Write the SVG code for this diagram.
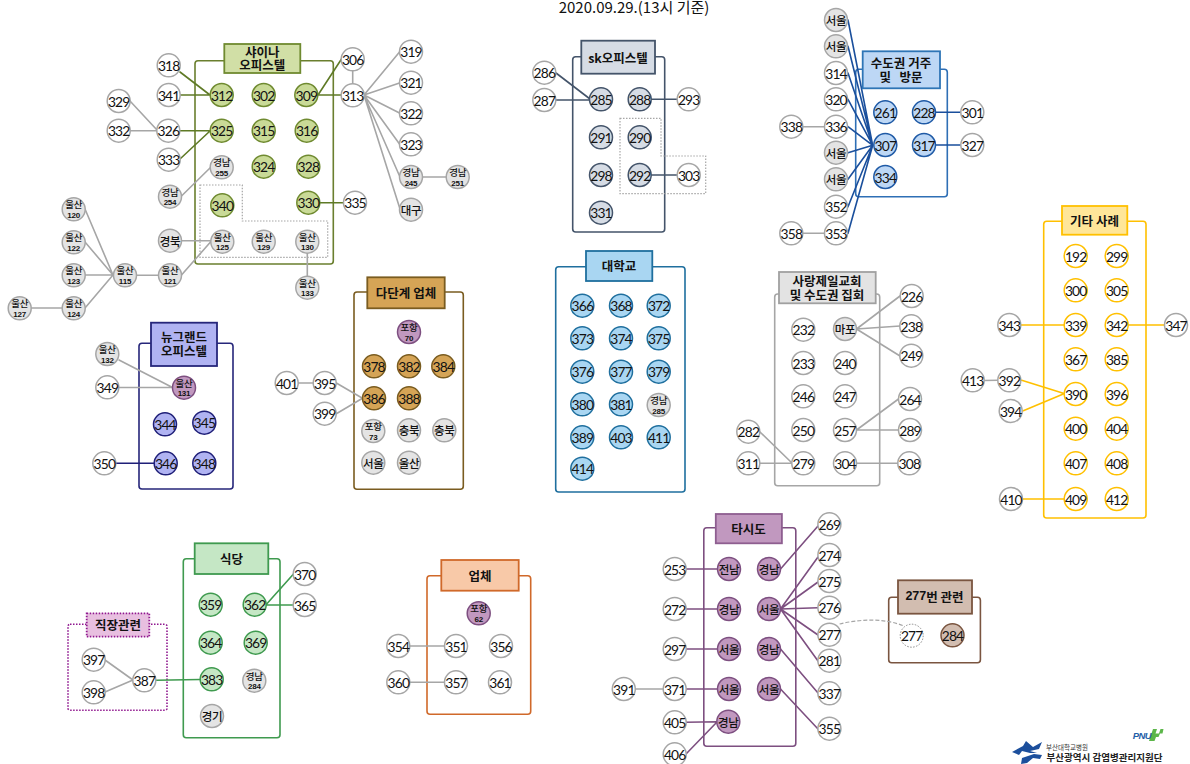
<svg xmlns="http://www.w3.org/2000/svg" width="1190" height="764" viewBox="0 0 1190 764">
<style>
text{font-family:"Lato","Noto Sans CJK KR",sans-serif;text-anchor:middle;fill:#111;dominant-baseline:central}
.n{font-size:13.8px;letter-spacing:-.8px}
.k{font-family:"Noto Sans CJK KR",sans-serif;font-size:11.5px;font-weight:500;letter-spacing:-.4px}
.k2{font-family:"Noto Sans CJK KR",sans-serif;font-size:9.5px;font-weight:500;letter-spacing:-.2px}
.b{font-family:"Liberation Sans",sans-serif;font-size:8px;font-weight:700;letter-spacing:-.2px}
.h{font-family:"Noto Sans CJK KR",sans-serif;font-size:12.5px;font-weight:700;white-space:pre}
circle{stroke-width:1.5;r:11.5px}
.w{fill:#fff;stroke:#a6a6a6}
.g{fill:#e4e4e4;stroke:#a6a6a6}
.s{fill:#c9da97;stroke:#6f8a30}
.d{fill:#d6dce5;stroke:#44546a}
.m{fill:#bdd7f5;stroke:#1f5aa6}
.u{fill:#a9d6f2;stroke:#1f6f9e}
.o{fill:#fff;stroke:#ffc000}
.p{fill:#b0b3f2;stroke:#1f1f78}
.c{fill:#d5a456;stroke:#7a5c20}
.v{fill:#c198bf;stroke:#7d4f80}
.e{fill:#c5e7c5;stroke:#3f9a4f}
.r{fill:#d2bdb0;stroke:#7a5540}
.dot{fill:#fff;stroke:#888;stroke-dasharray:1.5 1.5;stroke-width:1}
.box{fill:none;stroke-width:1.6}
.ti{stroke-width:1.8}
.l{fill:none;stroke-width:1.6;stroke-linecap:round}
.lg{stroke:#a6a6a6}.ls{stroke:#5f7a26}.ld{stroke:#44546a}.lm{stroke:#1a4f9c}.lo{stroke:#ffc000}.lp{stroke:#1f1f78}.lv{stroke:#7d4f80}.le{stroke:#3f9a4f}
.dotbox{fill:none;stroke:#a6a6a6;stroke-width:1.2;stroke-dasharray:1.5 1.5}
</style>
<text x="634" y="6.4" style="font-family:'Noto Sans CJK KR',sans-serif;font-size:15px">2020.09.29.(13시 기준)</text>

<g id="boxes">
<rect class="box" x="195" y="60.7" width="138.3" height="203.3" rx="3" stroke="#6a7f2e"/>
<rect class="box" x="572.7" y="56.7" width="92" height="175.3" rx="3" stroke="#44546a"/>
<rect class="box" x="855.7" y="69.3" width="91.6" height="127.4" rx="3" stroke="#2e6fb5"/>
<rect class="box" x="555.7" y="266.7" width="129.3" height="225.3" rx="3" stroke="#1f6f9e"/>
<rect class="box" x="774.7" y="294" width="105" height="191.7" rx="3" stroke="#a6a6a6"/>
<rect class="box" x="1043.7" y="221.3" width="102.3" height="296.7" rx="3" stroke="#ffc000"/>
<rect class="box" x="139" y="343.3" width="94" height="145.7" rx="3" stroke="#26267a"/>
<rect class="box" x="354" y="292" width="109.3" height="197.3" rx="3" stroke="#7a5c20"/>
<rect class="box" x="183.3" y="558.7" width="96.7" height="179" rx="3" stroke="#3f9a4f"/>
<rect class="box" x="68" y="624.3" width="99" height="86" rx="2" stroke="#90188f" stroke-dasharray="1.5 1.5"/>
<rect class="box" x="427" y="575.7" width="103.7" height="138.6" rx="3" stroke="#d0692a"/>
<rect class="box" x="703.8" y="527.7" width="92" height="218.6" rx="3" stroke="#7d4f80"/>
<rect class="box" x="888.7" y="597.3" width="91.7" height="65.4" rx="3" stroke="#7a5540"/>
<polygon class="dotbox" points="200,185 242.3,185 242.3,221 327.7,221 327.7,257.3 200,257.3"/>
<polygon class="dotbox" points="620,118.3 661,118.3 661,156 705.7,156 705.7,193.7 620,193.7"/>
</g>

<g id="connectors">
<path class="l lg" d="M352.7 71V84M364 95L399.5 52M364 95L399.5 83M364 95L399.5 113M364 95L399.5 144M364 95L400 177M364 95L400 209M423 177H446M130 101L157 130M130.7 130.7H157M85 209L113 275M85 242L113 275M85 275H113M85 308L113 275M31 308H62M136.5 275.3H158.5M181.5 275L210.5 242M181.5 240.7H211M181.5 196L211 167M307.3 253V276"/>
<path class="l ls" d="M180 72L210 95M180 95H210M180 130.7H210M180 159L210 131M318 95L341.5 59M318 95H341M320 202.7H343.5"/>
<path class="l ld" d="M556 73L590 99M556 100H590M651 99.3H677M651 175H677"/>
<path class="l lm" d="M848 20L872.7 145.3M848 46.3L872.7 145.3M848 73L872.7 145.3M848 99.3L872.7 145.3M848 126.7L872.7 145.3M848 152.7L872.7 145.3M848 179.3L872.7 145.3M848 206.7L872.7 145.3M848 233.3L872.7 145.3M935.5 112.3H961M935.5 145H961"/>
<path class="l lg" d="M803 126.7H824.5M803 233.3H824.5M856.5 329L900 296M856.5 329L900 326M856.5 329L900 356M856.5 430L898.5 399M856.5 430H898.5M760 432L792 463M760 463.3H792M856.5 463.3H898"/>
<path class="l lo" d="M1021 325H1064M1128 325H1164.5M1021.7 380.3L1063.3 393.3M1023.3 410.7L1063.3 394M1022.5 499H1064"/>
<path class="l lg" d="M984 380.5L998 380.3M119 360L173 387.7M119 387.5H173M298 383H313M336.3 383L362.5 398.3M336.3 413.7L362.5 398.3M105 660L133 680M105 692L133 680M410 646H444.5M410 682.3H444.5M635.5 689H663"/>
<path class="l lp" d="M116 463.3H154"/>
<path class="l le" d="M266 604.7L293.5 574M266 605H293M156 680.3L200 679.5"/>
<path class="l lv" d="M686 569H717.5M686 609H717.5M686 649H717.5M686 689H717.5M686 722.3L717 721.7M686 754L717 722M780.5 569L818 526M780.5 609L818 557M780.5 609L818 582M780.5 609L818 607.7M780.5 609L818 635M780.5 609L818 661M780.5 649L818 693M780.5 689L818 729"/>
<path d="M839.6 624C860 619 885 618 903.8 626" fill="none" stroke="#a6a6a6" stroke-width="1.2" stroke-dasharray="4 2"/>
</g>

<g id="t-shiina"><rect class="ti" x="224.3" y="44" width="76" height="29" fill="#d1dfa6" stroke="#6f8a30"/><text class="h" x="262.3" y="51">샤이나</text><text class="h" x="262.3" y="64.8">오피스텔</text></g>
<g id="t-sk"><rect class="ti" x="581.3" y="40.7" width="73.7" height="33" fill="#d6dce5" stroke="#44546a"/><text class="h" x="618" y="57">sk오피스텔</text></g>
<g id="t-metro"><rect class="ti" x="862.7" y="51.3" width="77.3" height="37" fill="#bdd7f5" stroke="#2e75b6"/><text class="h" x="901" y="62">수도권 거주</text><text class="h" x="901" y="76.5">및   방문</text></g>
<g id="t-univ"><rect class="ti" x="586" y="251" width="66.3" height="30" fill="#a9d6f2" stroke="#1f6f9e"/><text class="h" x="619" y="265.5">대학교</text></g>
<g id="t-sarang"><rect class="ti" x="779" y="272" width="96.7" height="31.3" fill="#e3e3e3" stroke="#a0a0a0"/><text class="h" x="827" y="280">사랑제일교회</text><text class="h" x="827" y="294.3">및 수도권 집회</text></g>
<g id="t-etc"><rect class="ti" x="1062" y="206" width="65.3" height="28.7" fill="#ffe699" stroke="#ffc000"/><text class="h" x="1094.5" y="220">기타 사례</text></g>
<g id="t-new"><rect class="ti" x="151" y="322.7" width="66" height="43.3" fill="#b0b3f2" stroke="#26267a"/><text class="h" x="184" y="336">뉴그랜드</text><text class="h" x="184" y="350.5">오피스텔</text></g>
<g id="t-multi"><rect class="ti" x="367.3" y="277.3" width="77.4" height="31" fill="#d5a456" stroke="#7a5c20"/><text class="h" x="406" y="292.5">다단계 업체</text></g>
<g id="t-food"><rect class="ti" x="194.7" y="543.3" width="73.6" height="30.7" fill="#c5e7c5" stroke="#3f9a4f"/><text class="h" x="231.5" y="558">식당</text></g>
<g id="t-work"><rect class="ti" x="86.7" y="613.3" width="62.6" height="23.4" fill="#e8bfe0" stroke="#90188f" stroke-dasharray="1.5 1.5"/><text class="h" x="118" y="624.5">직장관련</text></g>
<g id="t-comp"><rect class="ti" x="441.3" y="560" width="77.4" height="30.7" fill="#f8c9a8" stroke="#d0692a"/><text class="h" x="480" y="575">업체</text></g>
<g id="t-taxi"><rect class="ti" x="715.8" y="514" width="66.1" height="29.3" fill="#c198bf" stroke="#8e5e90"/><text class="h" x="748.5" y="528">타시도</text></g>
<g id="t-277"><rect class="ti" x="898" y="580.3" width="74" height="33.4" fill="#d2bdb0" stroke="#7a5540"/><text class="h" x="934.5" y="596"><tspan style="font-family:'Liberation Sans',sans-serif">277</tspan>번 관련</text></g>

<g id="n318" transform="translate(168.7 65.3)"><circle class="w"/><text class="n">318</text></g>
<g id="n341" transform="translate(168.7 95)"><circle class="w"/><text class="n">341</text></g>
<g id="n312" transform="translate(221.7 95)"><circle class="s"/><text class="n">312</text></g>
<g id="n302" transform="translate(263.7 95)"><circle class="s"/><text class="n">302</text></g>
<g id="n309" transform="translate(306.3 95)"><circle class="s"/><text class="n">309</text></g>
<g id="n306" transform="translate(352.7 59.3)"><circle class="w"/><text class="n">306</text></g>
<g id="n313" transform="translate(352.7 95.3)"><circle class="w"/><text class="n">313</text></g>
<g id="n319" transform="translate(411 51.7)"><circle class="w"/><text class="n">319</text></g>
<g id="n321" transform="translate(411 82.7)"><circle class="w"/><text class="n">321</text></g>
<g id="n322" transform="translate(411 113.3)"><circle class="w"/><text class="n">322</text></g>
<g id="n323" transform="translate(411 144.3)"><circle class="w"/><text class="n">323</text></g>
<g id="n245" transform="translate(411 177)"><circle class="g"/><text class="k2" y="-5">경남</text><text class="b" y="6.3">245</text></g>
<g id="n251" transform="translate(457.7 177)"><circle class="g"/><text class="k2" y="-5">경남</text><text class="b" y="6.3">251</text></g>
<g id="nDaegu" transform="translate(411 209.7)"><circle class="g"/><text class="k">대구</text></g>
<g id="n329" transform="translate(118.7 101)"><circle class="w"/><text class="n">329</text></g>
<g id="n332" transform="translate(118.7 130.7)"><circle class="w"/><text class="n">332</text></g>
<g id="n326" transform="translate(168.3 130.7)"><circle class="w"/><text class="n">326</text></g>
<g id="n325" transform="translate(221.7 130.7)"><circle class="s"/><text class="n">325</text></g>
<g id="n315" transform="translate(263.7 130.7)"><circle class="s"/><text class="n">315</text></g>
<g id="n316" transform="translate(306.7 130.7)"><circle class="s"/><text class="n">316</text></g>
<g id="n333" transform="translate(168.7 159.7)"><circle class="w"/><text class="n">333</text></g>
<g id="n255" transform="translate(221.7 167.3)"><circle class="g"/><text class="k2" y="-5">경남</text><text class="b" y="6.3">255</text></g>
<g id="n324" transform="translate(263.7 166.7)"><circle class="s"/><text class="n">324</text></g>
<g id="n328" transform="translate(308.3 166.7)"><circle class="s"/><text class="n">328</text></g>
<g id="n254" transform="translate(170 196.7)"><circle class="g"/><text class="k2" y="-5">경남</text><text class="b" y="6.3">254</text></g>
<g id="n340" transform="translate(222.3 205.3)"><circle class="s"/><text class="n">340</text></g>
<g id="n330" transform="translate(308.3 202.7)"><circle class="s"/><text class="n">330</text></g>
<g id="n335" transform="translate(355 202.7)"><circle class="w"/><text class="n">335</text></g>
<g id="n120" transform="translate(73.7 209.3)"><circle class="g"/><text class="k2" y="-5">울산</text><text class="b" y="6.3">120</text></g>
<g id="n122" transform="translate(73.7 242.3)"><circle class="g"/><text class="k2" y="-5">울산</text><text class="b" y="6.3">122</text></g>
<g id="n123" transform="translate(73.7 275.3)"><circle class="g"/><text class="k2" y="-5">울산</text><text class="b" y="6.3">123</text></g>
<g id="n124" transform="translate(73.7 308.3)"><circle class="g"/><text class="k2" y="-5">울산</text><text class="b" y="6.3">124</text></g>
<g id="n127" transform="translate(19.7 308.3)"><circle class="g"/><text class="k2" y="-5">울산</text><text class="b" y="6.3">127</text></g>
<g id="n115" transform="translate(125 275.3)"><circle class="g"/><text class="k2" y="-5">울산</text><text class="b" y="6.3">115</text></g>
<g id="n121" transform="translate(170 275.3)"><circle class="g"/><text class="k2" y="-5">울산</text><text class="b" y="6.3">121</text></g>
<g id="nGb" transform="translate(170 240.7)"><circle class="g"/><text class="k">경북</text></g>
<g id="n125" transform="translate(222.3 241.7)"><circle class="g"/><text class="k2" y="-5">울산</text><text class="b" y="6.3">125</text></g>
<g id="n129" transform="translate(263.7 241.7)"><circle class="g"/><text class="k2" y="-5">울산</text><text class="b" y="6.3">129</text></g>
<g id="n130" transform="translate(307.3 241.7)"><circle class="g"/><text class="k2" y="-5">울산</text><text class="b" y="6.3">130</text></g>
<g id="n133" transform="translate(307.3 287.7)"><circle class="g"/><text class="k2" y="-5">울산</text><text class="b" y="6.3">133</text></g>

<g id="n286" transform="translate(544.3 72.7)"><circle class="w"/><text class="n">286</text></g>
<g id="n287" transform="translate(544.3 100)"><circle class="w"/><text class="n">287</text></g>
<g id="n285" transform="translate(601 99.3)"><circle class="d"/><text class="n">285</text></g>
<g id="n288" transform="translate(639.7 99.3)"><circle class="d"/><text class="n">288</text></g>
<g id="n293" transform="translate(688.7 99.3)"><circle class="w"/><text class="n">293</text></g>
<g id="n291" transform="translate(601 137.3)"><circle class="d"/><text class="n">291</text></g>
<g id="n290" transform="translate(639.7 137.3)"><circle class="d"/><text class="n">290</text></g>
<g id="n298" transform="translate(601 175)"><circle class="d"/><text class="n">298</text></g>
<g id="n292" transform="translate(639.7 175)"><circle class="d"/><text class="n">292</text></g>
<g id="n303" transform="translate(688.7 175)"><circle class="w"/><text class="n">303</text></g>
<g id="n331" transform="translate(601 212.7)"><circle class="d"/><text class="n">331</text></g>

<g id="mS1" transform="translate(836 20)"><circle class="g"/><text class="k">서울</text></g>
<g id="mS2" transform="translate(836 46.3)"><circle class="g"/><text class="k">서울</text></g>
<g id="n314" transform="translate(836 73)"><circle class="w"/><text class="n">314</text></g>
<g id="n320" transform="translate(836 99.3)"><circle class="w"/><text class="n">320</text></g>
<g id="n336" transform="translate(836 126.7)"><circle class="w"/><text class="n">336</text></g>
<g id="n338" transform="translate(791.3 126.7)"><circle class="w"/><text class="n">338</text></g>
<g id="mS3" transform="translate(836 152.7)"><circle class="g"/><text class="k">서울</text></g>
<g id="mS4" transform="translate(836 179.3)"><circle class="g"/><text class="k">서울</text></g>
<g id="n352" transform="translate(836 206.7)"><circle class="w"/><text class="n">352</text></g>
<g id="n353" transform="translate(836 233.3)"><circle class="w"/><text class="n">353</text></g>
<g id="n358" transform="translate(791.3 233.3)"><circle class="w"/><text class="n">358</text></g>
<g id="n261" transform="translate(885.3 112.3)"><circle class="m"/><text class="n">261</text></g>
<g id="n228" transform="translate(924 112.3)"><circle class="m"/><text class="n">228</text></g>
<g id="n301" transform="translate(972.3 112.3)"><circle class="w"/><text class="n">301</text></g>
<g id="n307" transform="translate(885.3 145)"><circle class="m"/><text class="n">307</text></g>
<g id="n317" transform="translate(924 145)"><circle class="m"/><text class="n">317</text></g>
<g id="n327" transform="translate(972.3 145)"><circle class="w"/><text class="n">327</text></g>
<g id="n334" transform="translate(885.3 177)"><circle class="m"/><text class="n">334</text></g>

<g id="n366" transform="translate(582.3 305.7)"><circle class="u"/><text class="n">366</text></g>
<g id="n368" transform="translate(621 305.7)"><circle class="u"/><text class="n">368</text></g>
<g id="n372" transform="translate(658.7 305.7)"><circle class="u"/><text class="n">372</text></g>
<g id="n373" transform="translate(582.3 338.3)"><circle class="u"/><text class="n">373</text></g>
<g id="n374" transform="translate(621 338.3)"><circle class="u"/><text class="n">374</text></g>
<g id="n375" transform="translate(658.7 338.3)"><circle class="u"/><text class="n">375</text></g>
<g id="n376" transform="translate(582.3 371.7)"><circle class="u"/><text class="n">376</text></g>
<g id="n377" transform="translate(621 371.7)"><circle class="u"/><text class="n">377</text></g>
<g id="n379" transform="translate(658.7 371.7)"><circle class="u"/><text class="n">379</text></g>
<g id="n380" transform="translate(582.3 404.3)"><circle class="u"/><text class="n">380</text></g>
<g id="n381" transform="translate(621 404.3)"><circle class="u"/><text class="n">381</text></g>
<g id="n285b" transform="translate(658.7 405)"><circle class="g"/><text class="k2" y="-5">경남</text><text class="b" y="6.3">285</text></g>
<g id="n389" transform="translate(582.3 437.3)"><circle class="u"/><text class="n">389</text></g>
<g id="n403" transform="translate(621 437.3)"><circle class="u"/><text class="n">403</text></g>
<g id="n411" transform="translate(658.7 437.3)"><circle class="u"/><text class="n">411</text></g>
<g id="n414" transform="translate(582.3 468.7)"><circle class="u"/><text class="n">414</text></g>

<g id="n232" transform="translate(803.3 329.7)"><circle class="w"/><text class="n">232</text></g>
<g id="nMapo" transform="translate(845 329)"><circle class="g"/><text class="k">마포</text></g>
<g id="n226" transform="translate(911.7 296)"><circle class="w"/><text class="n">226</text></g>
<g id="n238" transform="translate(911.3 326.3)"><circle class="w"/><text class="n">238</text></g>
<g id="n249" transform="translate(911.3 355.7)"><circle class="w"/><text class="n">249</text></g>
<g id="n233" transform="translate(803.3 363)"><circle class="w"/><text class="n">233</text></g>
<g id="n240" transform="translate(845 363)"><circle class="w"/><text class="n">240</text></g>
<g id="n246" transform="translate(803.3 396.3)"><circle class="w"/><text class="n">246</text></g>
<g id="n247" transform="translate(845 396.3)"><circle class="w"/><text class="n">247</text></g>
<g id="n250" transform="translate(803.3 430)"><circle class="w"/><text class="n">250</text></g>
<g id="n257" transform="translate(845 430)"><circle class="w"/><text class="n">257</text></g>
<g id="n264" transform="translate(910 399)"><circle class="w"/><text class="n">264</text></g>
<g id="n289" transform="translate(910 430)"><circle class="w"/><text class="n">289</text></g>
<g id="n282" transform="translate(748.3 431.7)"><circle class="w"/><text class="n">282</text></g>
<g id="n311" transform="translate(748.3 463.3)"><circle class="w"/><text class="n">311</text></g>
<g id="n279" transform="translate(803.3 463.3)"><circle class="w"/><text class="n">279</text></g>
<g id="n304" transform="translate(845 463.3)"><circle class="w"/><text class="n">304</text></g>
<g id="n308" transform="translate(909.3 463.3)"><circle class="w"/><text class="n">308</text></g>

<g id="n192" transform="translate(1075.7 256)"><circle class="o"/><text class="n">192</text></g>
<g id="n299" transform="translate(1116.7 256)"><circle class="o"/><text class="n">299</text></g>
<g id="n300" transform="translate(1075.7 290.3)"><circle class="o"/><text class="n">300</text></g>
<g id="n305" transform="translate(1116.7 290.3)"><circle class="o"/><text class="n">305</text></g>
<g id="n339" transform="translate(1075.7 325)"><circle class="o"/><text class="n">339</text></g>
<g id="n342" transform="translate(1116.7 325)"><circle class="o"/><text class="n">342</text></g>
<g id="n367" transform="translate(1075.7 359.3)"><circle class="o"/><text class="n">367</text></g>
<g id="n385" transform="translate(1116.7 359.3)"><circle class="o"/><text class="n">385</text></g>
<g id="n390" transform="translate(1075.7 394)"><circle class="o"/><text class="n">390</text></g>
<g id="n396" transform="translate(1116.7 394)"><circle class="o"/><text class="n">396</text></g>
<g id="n400" transform="translate(1075.7 428.7)"><circle class="o"/><text class="n">400</text></g>
<g id="n404" transform="translate(1116.7 428.7)"><circle class="o"/><text class="n">404</text></g>
<g id="n407" transform="translate(1075.7 463.3)"><circle class="o"/><text class="n">407</text></g>
<g id="n408" transform="translate(1116.7 463.3)"><circle class="o"/><text class="n">408</text></g>
<g id="n409" transform="translate(1075.7 499)"><circle class="o"/><text class="n">409</text></g>
<g id="n412" transform="translate(1116.7 499)"><circle class="o"/><text class="n">412</text></g>
<g id="n343" transform="translate(1009.3 325)"><circle class="w"/><text class="n">343</text></g>
<g id="n347" transform="translate(1176 325)"><circle class="w"/><text class="n">347</text></g>
<g id="n392" transform="translate(1009.3 380.3)"><circle class="w"/><text class="n">392</text></g>
<g id="n413" transform="translate(972.7 380.3)"><circle class="w"/><text class="n">413</text></g>
<g id="n394" transform="translate(1010.7 411)"><circle class="w"/><text class="n">394</text></g>
<g id="n410" transform="translate(1011 499)"><circle class="w"/><text class="n">410</text></g>

<g id="n132" transform="translate(107.3 354)"><circle class="g"/><text class="k2" y="-5">울산</text><text class="b" y="6.3">132</text></g>
<g id="n349" transform="translate(107.3 387.3)"><circle class="w"/><text class="n">349</text></g>
<g id="n131" transform="translate(184 387.7)"><circle class="v"/><text class="k2" y="-5">울산</text><text class="b" y="6.3">131</text></g>
<g id="n344" transform="translate(165 424.3)"><circle class="p"/><text class="n">344</text></g>
<g id="n345" transform="translate(204.3 422.7)"><circle class="p"/><text class="n">345</text></g>
<g id="n350" transform="translate(104.3 463.3)"><circle class="w"/><text class="n">350</text></g>
<g id="n346" transform="translate(165.7 463.3)"><circle class="p"/><text class="n">346</text></g>
<g id="n348" transform="translate(204.3 463.3)"><circle class="p"/><text class="n">348</text></g>

<g id="n70" transform="translate(409 332)"><circle class="v"/><text class="k2" y="-5">포항</text><text class="b" y="6.3">70</text></g>
<g id="n378" transform="translate(374 366.3)"><circle class="c"/><text class="n">378</text></g>
<g id="n382" transform="translate(409 366.3)"><circle class="c"/><text class="n">382</text></g>
<g id="n384" transform="translate(443.3 366.3)"><circle class="c"/><text class="n">384</text></g>
<g id="n386" transform="translate(374 398.3)"><circle class="c"/><text class="n">386</text></g>
<g id="n388" transform="translate(409 398.3)"><circle class="c"/><text class="n">388</text></g>
<g id="n401" transform="translate(286.7 383)"><circle class="w"/><text class="n">401</text></g>
<g id="n395" transform="translate(324.7 383)"><circle class="w"/><text class="n">395</text></g>
<g id="n399" transform="translate(324.7 413.7)"><circle class="w"/><text class="n">399</text></g>
<g id="n73" transform="translate(373.3 431)"><circle class="g"/><text class="k2" y="-5">포항</text><text class="b" y="6.3">73</text></g>
<g id="nCb1" transform="translate(409 430.3)"><circle class="g"/><text class="k">충북</text></g>
<g id="nCb2" transform="translate(444.3 430.3)"><circle class="g"/><text class="k">충북</text></g>
<g id="nS5" transform="translate(373.3 462.7)"><circle class="g"/><text class="k">서울</text></g>
<g id="nU5" transform="translate(409 462.7)"><circle class="g"/><text class="k">울산</text></g>

<g id="n359" transform="translate(210.7 604.7)"><circle class="e"/><text class="n">359</text></g>
<g id="n362" transform="translate(254.7 604.7)"><circle class="e"/><text class="n">362</text></g>
<g id="n370" transform="translate(304.7 574)"><circle class="w"/><text class="n">370</text></g>
<g id="n365" transform="translate(304.7 605)"><circle class="w"/><text class="n">365</text></g>
<g id="n364" transform="translate(210.7 642.7)"><circle class="e"/><text class="n">364</text></g>
<g id="n369" transform="translate(255.7 642.7)"><circle class="e"/><text class="n">369</text></g>
<g id="n383" transform="translate(211.7 679.3)"><circle class="e"/><text class="n">383</text></g>
<g id="n284b" transform="translate(254.3 680.7)"><circle class="g"/><text class="k2" y="-5">경남</text><text class="b" y="6.3">284</text></g>
<g id="nGg" transform="translate(212 716)"><circle class="g"/><text class="k">경기</text></g>
<g id="n397" transform="translate(93.7 659.7)"><circle class="w"/><text class="n">397</text></g>
<g id="n398" transform="translate(93.7 692.3)"><circle class="w"/><text class="n">398</text></g>
<g id="n387" transform="translate(144.3 680.3)"><circle class="w"/><text class="n">387</text></g>

<g id="n62" transform="translate(478.7 613.3)"><circle class="v"/><text class="k2" y="-5">포항</text><text class="b" y="6.3">62</text></g>
<g id="n354" transform="translate(398.3 646)"><circle class="w"/><text class="n">354</text></g>
<g id="n351" transform="translate(456 646)"><circle class="w"/><text class="n">351</text></g>
<g id="n356" transform="translate(501 646)"><circle class="w"/><text class="n">356</text></g>
<g id="n360" transform="translate(398.3 682.3)"><circle class="w"/><text class="n">360</text></g>
<g id="n357" transform="translate(456 682.3)"><circle class="w"/><text class="n">357</text></g>
<g id="n361" transform="translate(500 682.3)"><circle class="w"/><text class="n">361</text></g>

<g id="tJn" transform="translate(729 569)"><circle class="v"/><text class="k">전남</text></g>
<g id="tGn1" transform="translate(769 569)"><circle class="v"/><text class="k">경남</text></g>
<g id="n269" transform="translate(829.4 524.3)"><circle class="w"/><text class="n">269</text></g>
<g id="n274" transform="translate(829.4 555)"><circle class="w"/><text class="n">274</text></g>
<g id="n275" transform="translate(829.4 581)"><circle class="w"/><text class="n">275</text></g>
<g id="n276" transform="translate(829.4 607.7)"><circle class="w"/><text class="n">276</text></g>
<g id="n277a" transform="translate(829.4 634.7)"><circle class="w"/><text class="n">277</text></g>
<g id="n281" transform="translate(829.4 660.7)"><circle class="w"/><text class="n">281</text></g>
<g id="n337" transform="translate(829.4 693.3)"><circle class="w"/><text class="n">337</text></g>
<g id="n355" transform="translate(829.4 728.7)"><circle class="w"/><text class="n">355</text></g>
<g id="n253" transform="translate(674.7 569)"><circle class="w"/><text class="n">253</text></g>
<g id="n272" transform="translate(674.7 609)"><circle class="w"/><text class="n">272</text></g>
<g id="tGn2" transform="translate(729 609)"><circle class="v"/><text class="k">경남</text></g>
<g id="tS1" transform="translate(769 609)"><circle class="v"/><text class="k">서울</text></g>
<g id="n297" transform="translate(674.7 649)"><circle class="w"/><text class="n">297</text></g>
<g id="tS2" transform="translate(729 649)"><circle class="v"/><text class="k">서울</text></g>
<g id="tGn3" transform="translate(769 649)"><circle class="v"/><text class="k">경남</text></g>
<g id="n391" transform="translate(623.8 689)"><circle class="w"/><text class="n">391</text></g>
<g id="n371" transform="translate(674.7 689)"><circle class="w"/><text class="n">371</text></g>
<g id="tS3" transform="translate(729 689)"><circle class="v"/><text class="k">서울</text></g>
<g id="tS4" transform="translate(769 689)"><circle class="v"/><text class="k">서울</text></g>
<g id="n405" transform="translate(674.7 722.3)"><circle class="w"/><text class="n">405</text></g>
<g id="tGn4" transform="translate(728.3 721.7)"><circle class="v"/><text class="k">경남</text></g>
<g id="n406" transform="translate(674.7 754.3)"><circle class="w"/><text class="n">406</text></g>
<g id="n277b" transform="translate(911.7 635.7)"><circle class="dot"/><text class="n">277</text></g>
<g id="n284" transform="translate(952.5 635.3)"><circle class="r"/><text class="n">284</text></g>

<g id="logo">
<path d="M1012 752L1023 746L1026 741L1033 747L1042 742L1039 749L1030 751L1037 753L1030 753L1022 751L1019 755Z" fill="#1c4f9c"/>
<path d="M1022 758L1034 754L1042 755L1040 759L1033 758L1027 763L1021 764Z" fill="#1c4f9c"/>
<path d="M1149 741L1153 729H1157L1155.5 733.5L1159 733.5L1160.5 729H1163.5L1162.5 733.5H1160L1158.5 737H1156L1154.5 741Z" fill="#5cb64a"/>
<text x="1142" y="735.5" style="font-family:'Liberation Sans',sans-serif;font-size:9.5px;font-weight:700;font-style:italic;fill:#1f5fa8;letter-spacing:-.6px">PNU</text>
<text x="1067" y="746.5" style="font-family:'Noto Sans CJK KR',sans-serif;font-size:6.5px;fill:#333">부산대학교병원</text>
<text x="1104.5" y="757" style="font-family:'Noto Sans CJK KR',sans-serif;font-size:9.5px;font-weight:700;fill:#222">부산광역시 감염병관리지원단</text>
</g>
</svg>
